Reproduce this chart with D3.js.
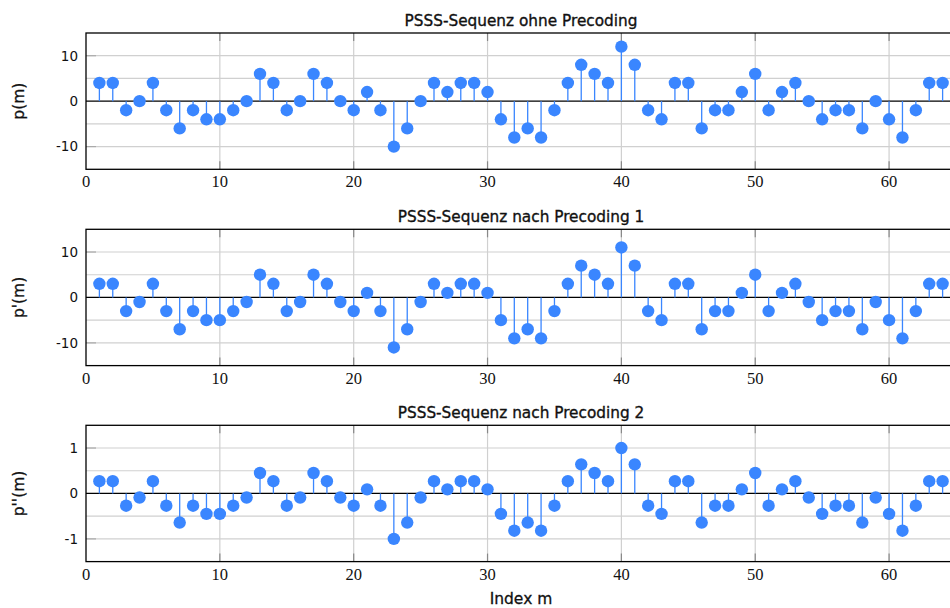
<!DOCTYPE html>
<html>
<head>
<meta charset="utf-8">
<script src="https://cdn.jsdelivr.net/npm/d3@7"></script>
<style>
  body { margin: 0; background: #fff; }
  svg { display: block; }
</style>
</head>
<body>
<div id="plot"></div>
<script>
const pm = [4, 4, -2, 0, 4, -2, -6, -2, -4, -4, -2, 0, 6, 4, -2, 0, 6, 4, 0, -2, 2, -2, -10, -6, 0, 4, 2, 4, 4, 2, -4, -8,
  -6, -8, -2, 4, 8, 6, 4, 12, 8, -2, -4, 4, 4, -6, -2, -2, 2, 6, -2, 2, 4, 0, -4, -2, -2, -6, 0, -4, -8, -2, 4, 4];
const pm1 = [3, 3, -3, -1, 3, -3, -7, -3, -5, -5, -3, -1, 5, 3, -3, -1, 5, 3, -1, -3, 1, -3, -11, -7, -1, 3, 1, 3, 3, 1, -5, -9,
  -7, -9, -3, 3, 7, 5, 3, 11, 7, -3, -5, 3, 3, -7, -3, -3, 1, 5, -3, 1, 3, -1, -5, -3, -3, -7, -1, -5, -9, -3, 3, 3];
const pm2 = [0.27, 0.27, -0.27, -0.09, 0.27, -0.27, -0.64, -0.27, -0.45, -0.45, -0.27, -0.09, 0.45, 0.27, -0.27, -0.09,
  0.45, 0.27, -0.09, -0.27, 0.09, -0.27, -1, -0.64, -0.09, 0.27, 0.09, 0.27, 0.27, 0.09, -0.45, -0.82,
  -0.64, -0.82, -0.27, 0.27, 0.64, 0.45, 0.27, 1, 0.64, -0.27, -0.45, 0.27, 0.27, -0.64, -0.27, -0.27,
  0.09, 0.45, -0.27, 0.09, 0.27, -0.09, -0.45, -0.27, -0.27, -0.64, -0.09, -0.45, -0.82, -0.27, 0.27, 0.27];

const titles = ["PSSS-Sequenz ohne Precoding", "PSSS-Sequenz nach Precoding 1", "PSSS-Sequenz nach Precoding 2"];
const yLabels = ["p(m)", "p'(m)", "p''(m)"];
const yDomains = [[-15, 15], [-15, 15], [-1.5, 1.5]];
const yTicks = [[-10, 0, 10], [-10, 0, 10], [-1, 0, 1]];
const yGrid = [[-10, -5, 5, 10], [-10, -5, 5, 10], [-1, -0.5, 0.5, 1]];
const xTicks = [0, 10, 20, 30, 40, 50, 60];
const series = [pm, pm1, pm2];

const blue = "#3a86ff";
const sans = "'DejaVu Sans', sans-serif";
const serif = "'Liberation Serif', serif";

const svg = d3.select("#plot")
  .append("svg")
    .attr("width", 950)
    .attr("height", 608);

const xScale = d3.scaleLinear()
  .domain([0, 65])
  .range([86, 956]);

const tops = [33, 229.3, 425.3];
const plotH = 136.3;

series.forEach((data, k) => {
  const top = tops[k];
  const bottom = top + plotH;
  const yScale = d3.scaleLinear().domain(yDomains[k]).range([bottom, top]);
  const g = svg.append("g");

  // horizontal grid
  g.selectAll(".hgrid").data(yGrid[k]).enter()
    .append("line")
      .attr("x1", 86).attr("x2", 956)
      .attr("y1", d => yScale(d)).attr("y2", d => yScale(d))
      .attr("stroke", "#d0d0d0").attr("stroke-width", 1.2);

  // vertical grid
  g.selectAll(".vgrid").data(xTicks.slice(1)).enter()
    .append("line")
      .attr("x1", d => xScale(d)).attr("x2", d => xScale(d))
      .attr("y1", top).attr("y2", bottom)
      .attr("stroke", "#d0d0d0").attr("stroke-width", 1.2);

  // ticks (inner)
  g.selectAll(".xtickB").data(xTicks.slice(1)).enter()
    .append("line")
      .attr("x1", d => xScale(d)).attr("x2", d => xScale(d))
      .attr("y1", bottom).attr("y2", bottom - 8)
      .attr("stroke", "#888").attr("stroke-width", 1.2);
  g.selectAll(".xtickT").data(xTicks.slice(1)).enter()
    .append("line")
      .attr("x1", d => xScale(d)).attr("x2", d => xScale(d))
      .attr("y1", top).attr("y2", top + 8)
      .attr("stroke", "#888").attr("stroke-width", 1.2);
  g.selectAll(".ytickL").data(yTicks[k].filter(d => d !== 0)).enter()
    .append("line")
      .attr("x1", 86).attr("x2", 96)
      .attr("y1", d => yScale(d)).attr("y2", d => yScale(d))
      .attr("stroke", "#aaa").attr("stroke-width", 1.2);

  // zero line
  g.append("line")
    .attr("x1", 86).attr("x2", 956)
    .attr("y1", yScale(0)).attr("y2", yScale(0))
    .attr("stroke", "#000").attr("stroke-width", 1.3);

  // stems
  g.selectAll(".stem").data(data).enter()
    .append("line")
      .attr("x1", (d, i) => xScale(i + 1)).attr("x2", (d, i) => xScale(i + 1))
      .attr("y1", yScale(0)).attr("y2", d => yScale(d))
      .attr("stroke", blue).attr("stroke-width", 1.3);

  // markers
  g.selectAll(".dot").data(data).enter()
    .append("circle")
      .attr("cx", (d, i) => xScale(i + 1))
      .attr("cy", d => yScale(d))
      .attr("r", 6.2)
      .attr("fill", blue);

  // frame
  g.append("rect")
    .attr("x", 86).attr("y", top)
    .attr("width", 870).attr("height", plotH)
    .attr("fill", "none").attr("stroke", "#000").attr("stroke-width", 1.3);

  // y tick labels
  g.selectAll(".ylab").data(yTicks[k]).enter()
    .append("text")
      .attr("x", 78)
      .attr("y", d => yScale(d))
      .attr("dy", "0.36em")
      .attr("text-anchor", "end")
      .style("font-family", sans)
      .style("font-size", "13.5px")
      .style("fill", "#111")
      .text(d => d);

  // x tick labels
  g.selectAll(".xlab").data(xTicks).enter()
    .append("text")
      .attr("x", d => xScale(d))
      .attr("y", bottom + 18)
      .attr("text-anchor", "middle")
      .style("font-family", serif)
      .style("font-size", "16.5px")
      .style("fill", "#111")
      .text(d => d);

  // title
  g.append("text")
    .attr("x", (86 + 956) / 2)
    .attr("y", top - 7)
    .attr("text-anchor", "middle")
    .style("font-family", sans)
    .style("font-size", "15.3px")
    .style("fill", "#111")
    .style("stroke", "#111")
    .style("stroke-width", 0.35)
    .text(titles[k]);

  // y label
  g.append("text")
    .attr("transform", `translate(24, ${(top + bottom) / 2}) rotate(-90)`)
    .attr("text-anchor", "middle")
    .style("font-family", sans)
    .style("font-size", "15.5px")
    .style("fill", "#111")
    .style("stroke", "#111")
    .style("stroke-width", 0.3)
    .text(yLabels[k]);
});

svg.append("text")
  .attr("x", 521)
  .attr("y", 604)
  .attr("text-anchor", "middle")
  .style("font-family", sans)
  .style("font-size", "15.5px")
  .style("fill", "#111")
  .style("stroke", "#111")
  .style("stroke-width", 0.3)
  .text("Index m");
</script>
</body>
</html>
